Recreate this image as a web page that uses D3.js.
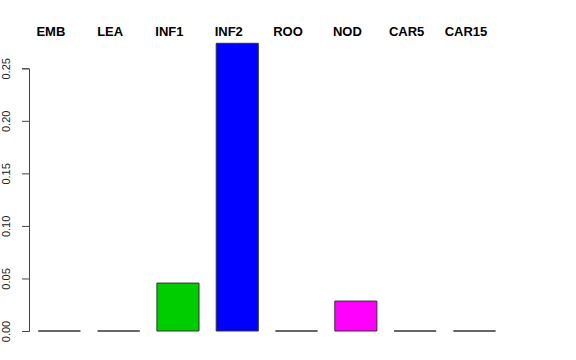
<!DOCTYPE html>
<html>
<head>
<meta charset="utf-8">
<script src="https://cdn.jsdelivr.net/npm/d3@7"></script>
<style>
  body { margin: 0; background: #fff; }
  svg { display: block; font-family: "Liberation Sans", Arial, sans-serif; }
</style>
</head>
<body>
<div id="chart"></div>
<script>
const categories = ["EMB", "LEA", "INF1", "INF2", "ROO", "NOD", "CAR5", "CAR15"];
const values = [0, 0, 0.0456, 0.2738, 0, 0.0285, 0, 0];
const barColors = ["#ff0000", "#ffff00", "#00cd00", "#0000ff", "#00ffff", "#ff00ff", "#999999", "#999999"];
const yTicks = [0, 0.05, 0.10, 0.15, 0.20, 0.25];

const width = 576, height = 360;

const svg = d3.select("#chart").append("svg")
  .attr("width", width)
  .attr("height", height);

const x = d3.scaleBand()
  .domain(categories)
  .range([38.3, 495.5])
  .paddingInner(0.29)
  .paddingOuter(0);

const y = d3.scaleLinear()
  .domain([0, 0.25])
  .range([331, 68.3]);

// bars drawn as paths so zero-height bars still show their outline
svg.append("g")
  .selectAll("path")
  .data(categories)
  .join("path")
  .attr("d", (d, i) => {
    const x0 = x(d), w = x.bandwidth();
    const y0 = y(0), y1 = y(values[i]);
    return `M${x0},${y0}V${y1}H${x0 + w}V${y0}Z`;
  })
  .attr("fill", (d, i) => barColors[i])
  .attr("stroke", "#333")
  .attr("stroke-width", 1);

// y axis
const yAxis = svg.append("g")
  .attr("transform", "translate(29,0)")
  .call(d3.axisLeft(y).tickValues(yTicks).tickFormat(d3.format(".2f")).tickSizeOuter(0).tickSize(7));
yAxis.select(".domain").attr("stroke", "#444");
yAxis.selectAll(".tick line").attr("stroke", "#444");
yAxis.selectAll(".tick text")
  .attr("font-size", 11)
  .attr("font-family", "Liberation Sans, Arial, sans-serif")
  .attr("fill", "#222")
  .attr("transform", "rotate(-90)")
  .attr("x", 0)
  .attr("y", -19)
  .attr("dy", 0)
  .attr("text-anchor", "middle");

// category labels at top, shifted a little left of bar centres like the original
svg.append("g")
  .selectAll("text")
  .data(categories)
  .join("text")
  .attr("x", d => x(d) + x.bandwidth() / 2 - 8.5)
  .attr("y", 35.5)
  .attr("text-anchor", "middle")
  .attr("font-size", 13)
  .attr("font-weight", "bold")
  .attr("fill", "#000")
  .text(d => d);
</script>
</body>
</html>
